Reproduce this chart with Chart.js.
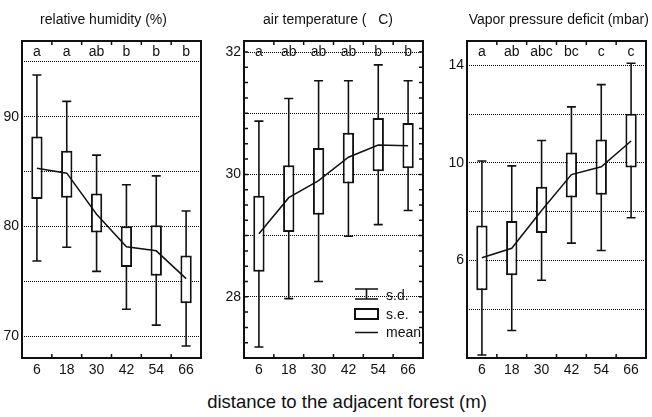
<!DOCTYPE html>
<html>
<head>
<meta charset="utf-8">
<script src="https://cdn.jsdelivr.net/npm/chart.js@4"></script>
<style>
  body { margin: 0; background: #fff; width: 652px; height: 417px; position: relative; overflow: hidden; font-family: "Liberation Sans", Arial, sans-serif; }
  canvas { position: absolute; top: 0; }
  #xtitle { position: absolute; left: 42px; top: 391px; width: 610px; text-align: center; font-size: 18.5px; line-height: 22px; color: #111; }
</style>
</head>
<body>
<canvas id="rh" width="203" height="380" style="left:0px"></canvas>
<canvas id="at" width="211" height="380" style="left:214px"></canvas>
<canvas id="vpd" width="211" height="380" style="left:437px"></canvas>
<div id="xtitle">distance to the adjacent forest (m)</div>
<script>
// distance classes (m)
const distances = ['6', '18', '30', '42', '54', '66'];

// relative humidity (%)
const rhMean   = [85.3, 84.85, 81.1, 78.14, 77.77, 75.24];
const rhSeLow  = [82.5, 82.6, 79.45, 76.3, 75.5, 73.0];
const rhSeHigh = [88.2, 86.9, 83.0, 80.0, 80.1, 77.35];
const rhSdLow  = [76.85, 78.1, 75.9, 72.45, 71.0, 69.1];
const rhSdHigh = [93.8, 91.4, 86.5, 83.8, 84.6, 81.4];
const rhLetters = ['a', 'a', 'ab', 'b', 'b', 'b'];
const rhGrid = [70, 75, 80, 85, 90, 95];
const rhTickLabels = [70, 80, 90];

// air temperature (C)
const atMean   = [29.03, 29.62, 29.9, 30.28, 30.48, 30.47];
const atSeLow  = [28.41, 29.06, 29.34, 29.85, 30.05, 30.10];
const atSeHigh = [29.65, 30.15, 30.43, 30.68, 30.92, 30.84];
const atSdLow  = [27.18, 27.97, 28.25, 28.99, 29.18, 29.41];
const atSdHigh = [30.87, 31.24, 31.53, 31.53, 31.79, 31.53];
const atLetters = ['a', 'ab', 'ab', 'ab', 'b', 'b'];
const atGrid = [28, 29, 30, 31, 32];
const atTickLabels = [28, 30, 32];

// vapor pressure deficit (mbar)
const vpdMean   = [6.11, 6.5, 8.05, 9.52, 9.84, 10.9];
const vpdSeLow  = [4.78, 5.39, 7.13, 8.58, 8.69, 9.81];
const vpdSeHigh = [7.43, 7.62, 9.02, 10.43, 10.96, 12.02];
const vpdSdLow  = [2.12, 3.13, 5.19, 6.71, 6.41, 7.75];
const vpdSdHigh = [10.08, 9.88, 10.92, 12.3, 13.21, 14.09];
const vpdLetters = ['a', 'ab', 'abc', 'bc', 'c', 'c'];
const vpdGrid = [4, 6, 8, 10, 12, 14];
const vpdTickLabels = [6, 10, 14];

const INK = '#111';
Chart.defaults.font.family = '"Liberation Sans", Arial, sans-serif';
Chart.defaults.color = INK;

function makePanel(id, p) {
    // whiskers, frame, letters, inward ticks, legend
    const extras = {
        id: 'extras_' + id,
        beforeDatasetsDraw(chart) {
            const ctx = chart.ctx, x = chart.scales.x, y = chart.scales.y;
            ctx.save();
            ctx.strokeStyle = INK;
            ctx.lineWidth = 1.6;
            p.sdLow.forEach((lo, i) => {
                const px = x.getPixelForValue(i);
                const yl = y.getPixelForValue(lo), yh = y.getPixelForValue(p.sdHigh[i]);
                ctx.beginPath();
                ctx.moveTo(px, yl); ctx.lineTo(px, yh);
                ctx.moveTo(px - 4.5, yl); ctx.lineTo(px + 4.5, yl);
                ctx.moveTo(px - 4.5, yh); ctx.lineTo(px + 4.5, yh);
                ctx.stroke();
            });
            ctx.restore();
        },
        afterDatasetsDraw(chart) {
            const ctx = chart.ctx, a = chart.chartArea, x = chart.scales.x, y = chart.scales.y;
            ctx.save();
            ctx.strokeStyle = INK;
            ctx.lineWidth = 2;
            ctx.strokeRect(a.left, a.top, a.right - a.left, a.bottom - a.top);

            // inward ticks at category boundaries
            ctx.lineWidth = 1.5;
            ctx.beginPath();
            for (let i = 1; i < distances.length; i++) {
                const bx = (x.getPixelForValue(i - 1) + x.getPixelForValue(i)) / 2;
                ctx.moveTo(bx, a.top); ctx.lineTo(bx, a.top + 4);
                ctx.moveTo(bx, a.bottom); ctx.lineTo(bx, a.bottom - 4);
            }
            if (p.minorStep) {
                for (let v = Math.ceil(y.min / p.minorStep) * p.minorStep; v < y.max; v += p.minorStep) {
                    const py = y.getPixelForValue(v);
                    ctx.moveTo(a.left, py); ctx.lineTo(a.left + 4, py);
                    ctx.moveTo(a.right, py); ctx.lineTo(a.right - 4, py);
                }
            }
            ctx.stroke();

            // significance letters
            ctx.fillStyle = INK;
            ctx.font = '14px "Liberation Sans", Arial, sans-serif';
            ctx.textAlign = 'center';
            ctx.textBaseline = 'middle';
            p.letters.forEach((t, i) => ctx.fillText(t, x.getPixelForValue(i), a.top + 11));

            // panel title
            ctx.fillText(p.title, (a.left + a.right) / 2 + p.titleDx, 20);

            if (p.legend) {
                const lx = a.left + 111, rx = a.left + 134, cx = (lx + rx) / 2, b = a.bottom;
                ctx.lineWidth = 1.6;
                ctx.beginPath();
                ctx.moveTo(lx, b - 69); ctx.lineTo(rx, b - 69);
                ctx.moveTo(lx, b - 59); ctx.lineTo(rx, b - 59);
                ctx.moveTo(cx, b - 69); ctx.lineTo(cx, b - 59);
                ctx.stroke();
                ctx.lineWidth = 2;
                ctx.fillStyle = '#fff';
                ctx.fillRect(lx, b - 49, rx - lx, 10);
                ctx.strokeRect(lx, b - 49, rx - lx, 10);
                ctx.lineWidth = 1.5;
                ctx.beginPath();
                ctx.moveTo(lx, b - 25.5); ctx.lineTo(rx, b - 25.5);
                ctx.stroke();
                ctx.fillStyle = INK;
                ctx.textAlign = 'left';
                ctx.fillText('s.d.', a.left + 142, b - 61.5);
                ctx.fillText('s.e.', a.left + 142, b - 43);
                ctx.fillText('mean', a.left + 142, b - 25);
            }
            ctx.restore();
        }
    };

    return new Chart(document.getElementById(id), {
        type: 'bar',
        data: {
            labels: distances,
            datasets: [{
                type: 'line',
                data: p.mean,
                borderColor: INK,
                borderWidth: 1.5,
                pointRadius: 0,
                tension: 0,
                order: 0
            }, {
                type: 'bar',
                data: p.seLow.map((lo, i) => [lo, p.seHigh[i]]),
                backgroundColor: '#fff',
                borderColor: INK,
                borderWidth: 2,
                borderSkipped: false,
                categoryPercentage: 1,
                barPercentage: 0.38,
                order: 1
            }]
        },
        options: {
            responsive: false,
            devicePixelRatio: 1,
            animation: false,
            layout: { padding: { top: 41, right: 2, left: 0, bottom: 0 } },
            plugins: { legend: { display: false }, tooltip: { enabled: false } },
            scales: {
                x: {
                    type: 'category',
                    offset: true,
                    afterFit(s) { s.height = 22; },
                    grid: { display: false, drawTicks: false },
                    border: { display: false },
                    ticks: { font: { size: 14 }, color: INK, padding: 4, maxRotation: 0 }
                },
                y: {
                    min: p.min,
                    max: p.max,
                    afterFit(s) { s.width = p.yWidth; },
                    afterBuildTicks(s) { s.ticks = p.grid.map(v => ({ value: v })); },
                    grid: { color: '#000', lineWidth: 1, drawTicks: false },
                    border: { display: false, dash: [1, 1] },
                    ticks: {
                        font: { size: 14 },
                        color: INK,
                        padding: 3,
                        callback: v => p.tickLabels.includes(v) ? String(v) : ''
                    }
                }
            }
        },
        plugins: [extras]
    });
}

makePanel('rh', {
    title: 'relative humidity (%)', titleDx: -8,
    mean: rhMean, seLow: rhSeLow, seHigh: rhSeHigh, sdLow: rhSdLow, sdHigh: rhSdHigh,
    letters: rhLetters, grid: rhGrid, tickLabels: rhTickLabels,
    min: 68, max: 96.9, yWidth: 22
});

makePanel('at', {
    title: 'air temperature (   C)', titleDx: -5.5,
    mean: atMean, seLow: atSeLow, seHigh: atSeHigh, sdLow: atSdLow, sdHigh: atSdHigh,
    letters: atLetters, grid: atGrid, tickLabels: atTickLabels,
    min: 27.0, max: 32.18, yWidth: 30, minorStep: 0.25, legend: true
});

makePanel('vpd', {
    title: 'Vapor pressure deficit (mbar)', titleDx: 2.3,
    mean: vpdMean, seLow: vpdSeLow, seHigh: vpdSeHigh, sdLow: vpdSdLow, sdHigh: vpdSdHigh,
    letters: vpdLetters, grid: vpdGrid, tickLabels: vpdTickLabels,
    min: 2.0, max: 15.0, yWidth: 30
});
</script>
</body>
</html>
